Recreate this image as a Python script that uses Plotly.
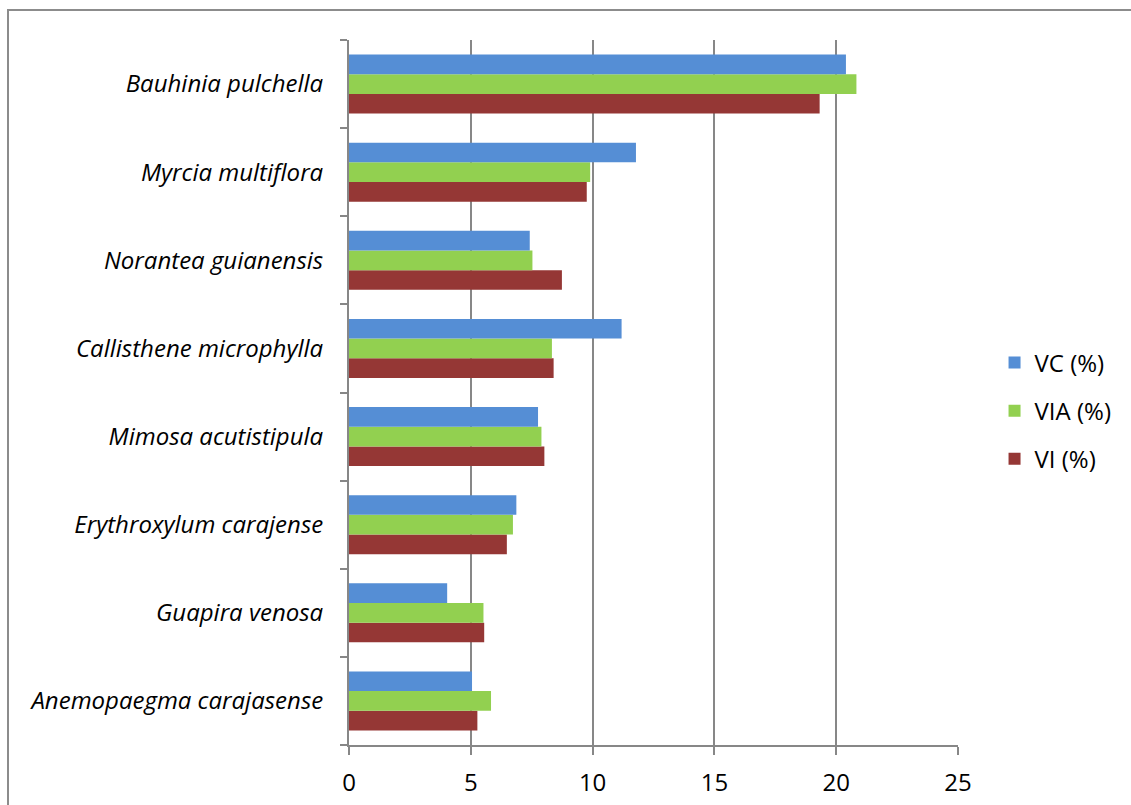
import plotly.graph_objects as go

# Species (top to bottom as displayed)
species = [
    "Bauhinia pulchella",
    "Myrcia multiflora",
    "Norantea guianensis",
    "Callisthene microphylla",
    "Mimosa acutistipula",
    "Erythroxylum carajense",
    "Guapira venosa",
    "Anemopaegma carajasense",
]
vc = [20.40, 11.78, 7.42, 11.19, 7.76, 6.87, 4.03, 5.05]
via = [20.83, 9.90, 7.53, 8.33, 7.90, 6.73, 5.52, 5.83]
vi = [19.32, 9.76, 8.74, 8.40, 8.02, 6.48, 5.55, 5.27]

x_ticks = [0, 5, 10, 15, 20, 25]

# Plotly draws categories bottom-up, so reverse them
cats = species[::-1]

W, H = 1131, 805
ml, mr, mt, mb = 349, 173, 40, 60
pw = W - ml - mr
ph = H - mt - mb

fig = go.Figure()
# Added bottom-to-top within each group; legendrank keeps VC first in the legend
series = [
    ("VI (%)", vi, "#953735", 3),
    ("VIA (%)", via, "#92D050", 2),
    ("VC (%)", vc, "#558ED5", 1),
]
for name, vals, color, rank in series:
    fig.add_trace(go.Bar(
        y=cats, x=vals[::-1], name=name, orientation="h",
        legendgroup=name, legendrank=rank,
        marker=dict(color=color, line=dict(width=0)),
    ))

grid_color = "#878787"
fig.update_layout(
    width=W, height=H,
    margin=dict(l=ml, r=mr, t=mt, b=mb, autoexpand=False),
    paper_bgcolor="white", plot_bgcolor="white",
    barmode="group", bargap=0.33, bargroupgap=0,
    font=dict(family="Open Sans, Liberation Sans, sans-serif", size=21, color="black"),
    legend=dict(
        traceorder="grouped", x=1.06, y=0.474, xanchor="left", yanchor="middle",
        font=dict(size=24), tracegroupgap=14,
    ),
    xaxis=dict(
        range=[0, 25], tickvals=x_ticks, ticktext=[str(v) for v in x_ticks],
        showgrid=True, gridcolor=grid_color, gridwidth=2,
        showline=True, linecolor=grid_color, linewidth=2,
        ticks="outside", ticklen=8, tickcolor=grid_color, tickwidth=2,
        zeroline=False, tickfont=dict(size=24), ticklabelstandoff=7,
        automargin=False,
    ),
    yaxis=dict(
        showline=True, linecolor=grid_color, linewidth=2,
        ticks="outside", ticklen=7, tickcolor=grid_color, tickwidth=2,
        tickson="boundaries", showgrid=False,
        tickfont=dict(size=24, style="italic"), ticklabelstandoff=19,
        automargin=False,
    ),
)

# Outer chart border
fig.add_shape(
    type="rect", xref="paper", yref="paper",
    x0=(8 - ml) / pw, x1=(W + 20 - ml) / pw,
    y0=-(mb + 20) / ph, y1=1 + (mt - 10) / ph,
    line=dict(color="#8c8c8c", width=2), fillcolor="rgba(0,0,0,0)", layer="below",
)

fig.write_html("out.html")
